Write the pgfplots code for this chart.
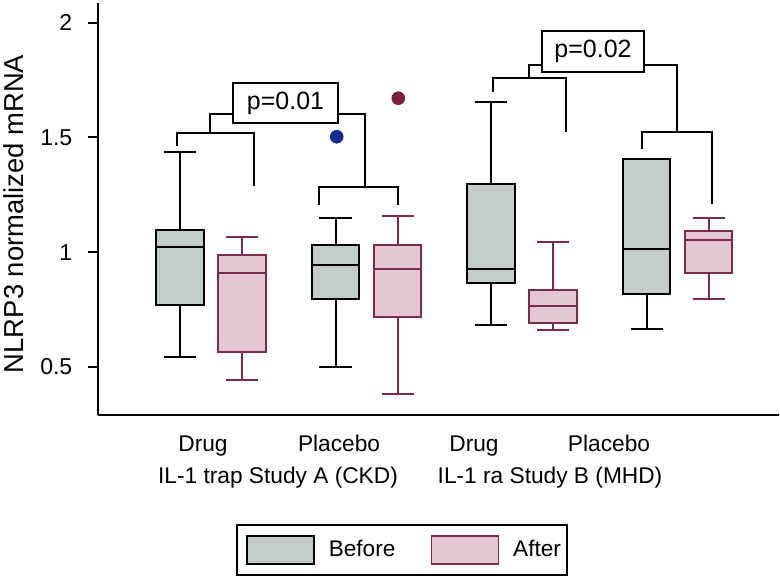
\documentclass[border=0pt]{standalone}
\usepackage{fontspec}
\setmainfont{Liberation Sans}
\usepackage{pgfplots}
\pgfplotsset{compat=1.18}
\usepgfplotslibrary{statistics}
\definecolor{bfill}{HTML}{C4CCCA}
\definecolor{afill}{HTML}{E3C7D2}
\definecolor{aedge}{HTML}{7A2B4C}
\definecolor{oblue}{HTML}{1B2C8F}
\definecolor{ored}{HTML}{7A1F3E}
\pgfplotsset{
  bbox/.style={draw=black, fill=bfill, line width=1pt, forget plot,
    boxplot/box extend=1.527, boxplot/whisker extend=1.03,
    boxplot/every median/.style={draw=black, line width=1pt}},
  abox/.style={draw=aedge, fill=afill, line width=1pt, forget plot,
    boxplot/box extend=1.527, boxplot/whisker extend=1.03,
    boxplot/every median/.style={draw=aedge, line width=1pt}},
  brk/.style={black, line width=1pt, no markers, forget plot},
}
\begin{document}
\begin{tikzpicture}
\useasboundingbox (-48.85pt,-81pt) rectangle (341.15pt,207.5pt);
\begin{axis}[
  at={(0pt,0pt)}, anchor=south west,
  scale only axis, width=340.65pt, height=205.8pt,
  xmin=-1.646, xmax=20.26, ymin=0.2906, ymax=2.084,
  boxplot/draw direction=y,
  axis x line=bottom, axis y line=left,
  axis line style={-, line width=1pt},
  clip=false,
  ytick={0.5,1,1.5,2},
  tick align=outside,
  major tick length=4.7pt,
  ytick style={line width=1pt, black},
  xtick={1.740,6.113,10.453,14.794},
  xticklabels={Drug,Placebo,Drug,Placebo},
  xtick style={draw=none},
  /pgf/number format/assume math mode=true,
  yticklabel style={font=\fontsize{11.5}{13}\selectfont, xshift=-4.5pt},
  xticklabel style={font=\fontsize{11.35}{13}\selectfont, anchor=base, yshift=-13.5pt},
  ylabel={NLRP3 normalized mRNA},
  ylabel style={at={(axis description cs:-0.1229,0.4885)}, anchor=center, font=\fontsize{13.7}{15}\selectfont},
  legend style={at={(axis cs:2.801,-0.1843)}, anchor=north west, draw=black, line width=1pt,
    legend columns=2, font=\fontsize{11.3}{13}\selectfont,
    inner xsep=1pt, inner ysep=5pt,
    /tikz/every odd column/.append style={column sep=5pt},
    /tikz/every even column/.append style={column sep=12pt},
    cells={anchor=west}},
  legend image code/.code={\path (0pt,0pt); \draw[#1, line width=0.8pt] (3.5pt,-7pt) rectangle (37pt,7pt);},
]
% Study A Drug
\addplot[bbox, boxplot prepared={draw position=1, lower whisker=0.545, lower quartile=0.769, median=1.021, upper quartile=1.097, upper whisker=1.437}] coordinates {};
\addplot[abox, boxplot prepared={draw position=3, lower whisker=0.443, lower quartile=0.566, median=0.911, upper quartile=0.987, upper whisker=1.065}] coordinates {};
% Study A Placebo
\addplot[bbox, boxplot prepared={draw position=6, lower whisker=0.498, lower quartile=0.797, median=0.943, upper quartile=1.031, upper whisker=1.149}] coordinates {};
\addplot[abox, boxplot prepared={draw position=8, lower whisker=0.381, lower quartile=0.716, median=0.925, upper quartile=1.031, upper whisker=1.156}] coordinates {};
% Study B Drug
\addplot[bbox, boxplot prepared={draw position=11, lower whisker=0.681, lower quartile=0.864, median=0.927, upper quartile=1.298, upper whisker=1.654}] coordinates {};
\addplot[abox, boxplot prepared={draw position=13, lower whisker=0.661, lower quartile=0.690, median=0.766, upper quartile=0.835, upper whisker=1.044}] coordinates {};
% Study B Placebo
\addplot[bbox, boxplot prepared={draw position=16, lower whisker=0.664, lower quartile=0.819, median=1.015, upper quartile=1.406, upper whisker=1.406}] coordinates {};
\addplot[abox, boxplot prepared={draw position=18, lower whisker=0.797, lower quartile=0.911, median=1.052, upper quartile=1.092, upper whisker=1.148}] coordinates {};
% outliers
\addplot[only marks, mark=*, mark size=3.2pt, oblue, forget plot] coordinates {(6.039,1.503)};
\addplot[only marks, mark=*, mark size=3.2pt, ored, forget plot] coordinates {(8.019,1.671)};
% brackets study A
\addplot[brk] coordinates {(0.894,1.464) (0.894,1.521) (3.379,1.521) (3.379,1.288)};
\addplot[brk] coordinates {(1.965,1.521) (1.965,1.601) (2.801,1.601)};
\addplot[brk] coordinates {(5.469,1.204) (5.469,1.282) (8.019,1.282) (8.019,1.204)};
\addplot[brk] coordinates {(6.949,1.282) (6.949,1.601) (6.071,1.601)};
% brackets study B
\addplot[brk] coordinates {(11.064,1.699) (11.064,1.761) (13.395,1.761) (13.395,1.525)};
\addplot[brk] coordinates {(12.232,1.761) (12.232,1.817) (12.631,1.817)};
\addplot[brk] coordinates {(15.865,1.448) (15.865,1.522) (18.106,1.522) (18.106,1.210)};
\addplot[brk] coordinates {(16.981,1.522) (16.981,1.817) (15.929,1.817)};
\node[draw=black, fill=white, line width=1pt, minimum width=52.5pt, minimum height=20pt, inner sep=0pt, font=\fontsize{12.5}{14}\selectfont] at (axis cs:4.392,1.65) {p=0.01};
\node[draw=black, fill=white, line width=1pt, minimum width=51.3pt, minimum height=20.5pt, inner sep=0pt, font=\fontsize{12.5}{14}\selectfont] at (axis cs:14.280,1.876) {p=0.02};
% group labels
\node[anchor=base, font=\fontsize{11.35}{13}\selectfont] at (axis cs:4.151,-0.0057) {IL-1 trap Study A (CKD)};
\node[anchor=base, font=\fontsize{11.35}{13}\selectfont] at (axis cs:12.897,-0.0057) {IL-1 ra Study B (MHD)};
% legend
\addlegendimage{draw=black, fill=bfill}
\addlegendentry{Before}
\addlegendimage{draw=aedge, fill=afill}
\addlegendentry{After}
\end{axis}
\end{tikzpicture}
\end{document}
